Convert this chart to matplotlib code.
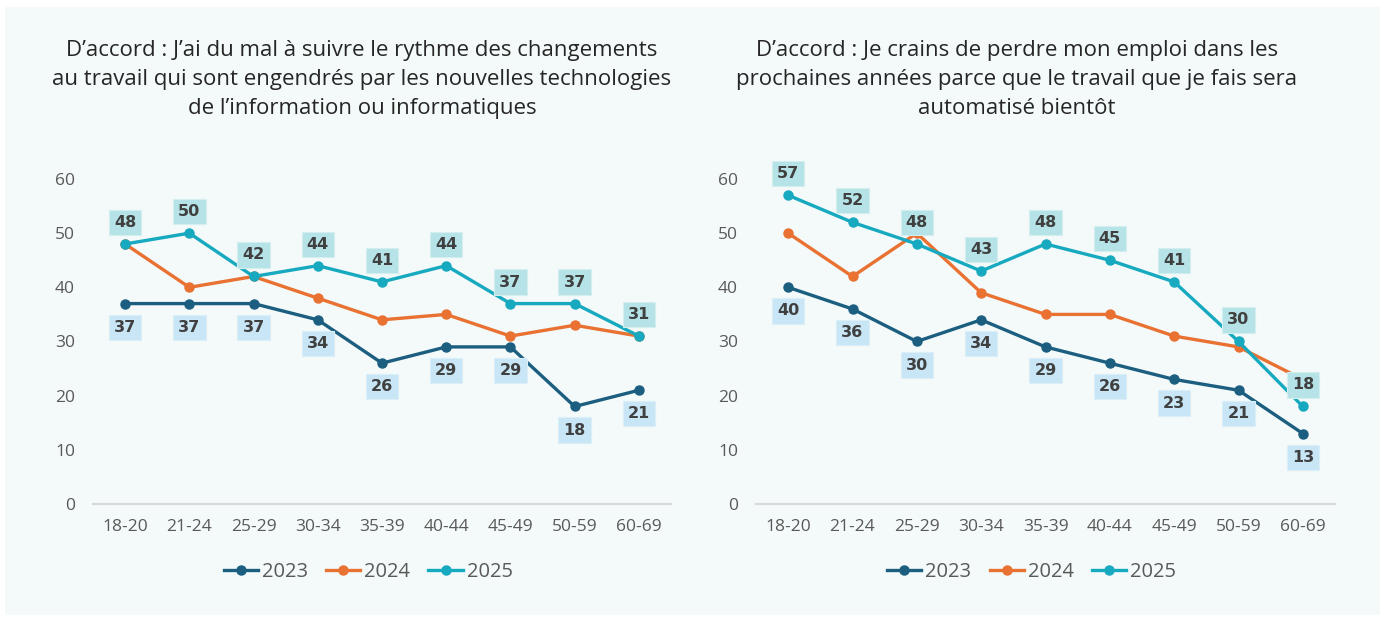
import matplotlib
matplotlib.use("Agg")
import matplotlib.pyplot as plt
from matplotlib.patches import Rectangle

plt.rcParams['font.family'] = ['Open Sans', 'DejaVu Sans']

# data
ages = ["18-20", "21-24", "25-29", "30-34", "35-39", "40-44", "45-49", "50-59", "60-69"]
years = ["2023", "2024", "2025"]

left_title = "D’accord : J’ai du mal à suivre le rythme des changements\nau travail qui sont engendrés par les nouvelles technologies\nde l’information ou informatiques"
left_2023 = [37, 37, 37, 34, 26, 29, 29, 18, 21]
left_2024 = [48, 40, 42, 38, 34, 35, 31, 33, 31]
left_2025 = [48, 50, 42, 44, 41, 44, 37, 37, 31]

right_title = "D’accord : Je crains de perdre mon emploi dans les\nprochaines années parce que le travail que je fais sera\nautomatisé bientôt"
right_2023 = [40, 36, 30, 34, 29, 26, 23, 21, 13]
right_2024 = [50, 42, 50, 39, 35, 35, 31, 29, 23]
right_2025 = [57, 52, 48, 43, 48, 45, 41, 30, 18]

yticks = [0, 10, 20, 30, 40, 50, 60]

colors = {"2023": "#1B5E80", "2024": "#E97132", "2025": "#17A9BF"}
box_2023 = "#C8E6F6"
box_2025 = "#B5E3E7"
bg = "#F3FAF9"

fig = plt.figure(figsize=(13.85, 6.2), dpi=100)
fig.patch.set_facecolor("white")
fig.add_artist(Rectangle((5 / 1385, 5 / 620), 1375 / 1385, 608 / 620,
                         transform=fig.transFigure, facecolor=bg, edgecolor="none", zorder=-10))


def draw_panel(rect, title, title_x, s23, s24, s25):
    ax = fig.add_axes(rect)
    ax.set_facecolor("none")
    x = range(len(ages))
    series = {"2023": s23, "2024": s24, "2025": s25}
    for y in years:
        ax.plot(x, series[y], color=colors[y], lw=2.4, marker="o", ms=6.5,
                label=y, clip_on=False, zorder=3)
    lab = dict(ha="center", va="center", fontsize=11.5, fontweight="bold", color="#404040",
               family="DejaVu Sans", textcoords="offset points", zorder=5)
    for i in x:
        ax.annotate(str(s25[i]), (i, s25[i]), xytext=(0, 15.5),
                    bbox=dict(boxstyle="square,pad=0.32", fc=box_2025, ec="#D5EEF0", lw=0.8),
                    **lab)
        ax.annotate(str(s23[i]), (i, s23[i]), xytext=(0, -17),
                    bbox=dict(boxstyle="square,pad=0.32", fc=box_2023, ec="#DCEFF8", lw=0.8),
                    **lab)
    ax.set_xlim(-0.5, len(ages) - 0.5)
    ax.set_ylim(0, 60)
    ax.set_yticks(yticks)
    ax.set_xticks(list(x))
    ax.set_xticklabels(ages)
    for s in ["top", "right", "left"]:
        ax.spines[s].set_visible(False)
    ax.spines["bottom"].set_color("#D9D9D9")
    ax.spines["bottom"].set_linewidth(1.6)
    ax.tick_params(axis="both", length=0, labelsize=12.5, colors="#595959")
    ax.tick_params(axis="y", pad=13)
    ax.tick_params(axis="x", pad=11)
    fig.text(title_x, 0.871, title, ha="center", va="center", fontsize=16,
             color="#262626", linespacing=1.5)
    leg_x = rect[0] + rect[2] / 2 - 0.01
    ax.legend(loc="center", bbox_to_anchor=(leg_x, 0.0774), bbox_transform=fig.transFigure,
              ncol=3, frameon=False, fontsize=14.5, handlelength=1.7, handletextpad=0.2,
              columnspacing=0.9, labelcolor="#595959")
    return ax


draw_panel([93 / 1385, 0.1871, 578 / 1385, 0.5242], left_title, 362 / 1385,
           left_2023, left_2024, left_2025)
draw_panel([756 / 1385, 0.1871, 579 / 1385, 0.5242], right_title, 1017 / 1385,
           right_2023, right_2024, right_2025)

fig.savefig("out.png", dpi=100, facecolor="white")
